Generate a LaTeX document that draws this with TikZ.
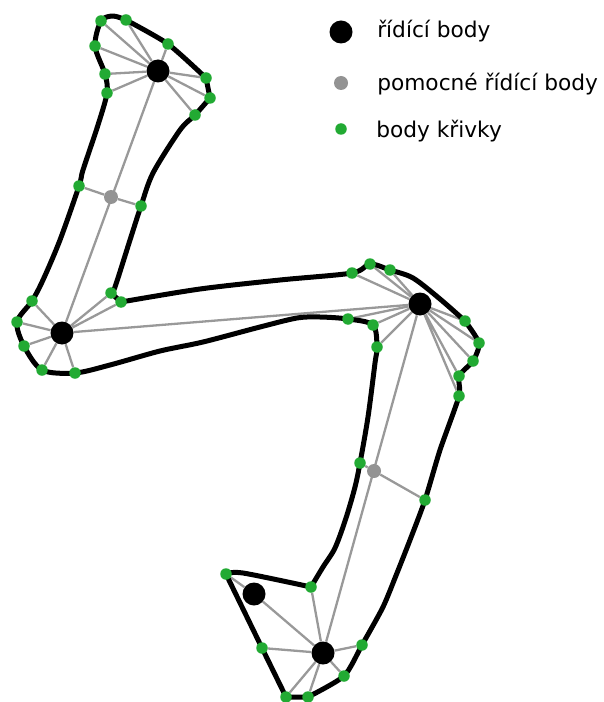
\documentclass[tikz,border=0pt]{standalone}
\usepackage{fontspec}
\setmainfont{DejaVu Sans}
\usetikzlibrary{backgrounds}
\tikzset{
  ctrl/.style={circle,fill=black,inner sep=0pt,minimum size=23\pxu},
  aux/.style={circle,fill=gray!85,inner sep=0pt,minimum size=14\pxu},
  crv/.style={circle,fill=ptgreen,inner sep=0pt,minimum size=11.5\pxu},
  spoke/.style={draw=spokegray,line width=2.3\pxu},
  curveline/.style={draw=black,line width=5\pxu,line cap=round,line join=round},
  leg/.style={anchor=base west,inner sep=0pt,text=black,font=\fontsize{21.7\pxu}{26\pxu}\selectfont},
}
\newdimen\pxu \pxu=0.75pt
\definecolor{ptgreen}{HTML}{22AA33}
\definecolor{spokegray}{HTML}{999999}
\begin{document}
\begin{tikzpicture}[x=0.75pt,y=-0.75pt]
\useasboundingbox (0,0) rectangle (603,702);
% control points
\node[ctrl] (c1) at (158,71) {};
\node[ctrl] (c2) at (62,333) {};
\node[ctrl] (c3) at (420,304) {};
\node[ctrl] (c4) at (323,653) {};
\node[ctrl] (c5) at (254,594) {};
% auxiliary points
\node[aux] (a1) at (111,197) {};
\node[aux] (a2) at (374,471) {};
% curve points
\foreach \n/\x/\y in {
 t1/101/21,t2/126/20,t3/168/44,t4/206/78,t5/210/98,t6/195/115,t7/141/206,t8/79/186,
 t9/107/93,t10/105/74,t11/95/46,
 l1/32/301,l2/17/322,l3/24/346,l4/42/370,l5/75/373,l6/111/293,l7/121/302,
 r1/352/273,r2/370/264,r3/390/270,r4/465/321,r5/479/343,r6/473/361,r7/459/376,r8/459/396,
 r9/348/319,r10/373/325,r11/377/347,r12/360/463,r13/425/500,
 b1/226/574,b2/311/587,b3/262/648,b4/362/645,b5/344/676,b6/308/697,b7/286/697}
 {\node[crv] (\n) at (\x,\y) {};}
% waypoints of the curve
\foreach \n/\x/\y in {
 w1/243/573,
 w2/323/567,w3/335/548,w4/346/518,w30/355/487,
 w5/368/417,w6/375/363,
 w7/320/317,w8/297/318,w9/260/327,w10/203/342,w11/160/351,w12/110/365,
 w13/43/280,w14/60/240,
 w15/83/170,w16/98/125,
 w17/113/16,
 w19/180/130,w20/153/173,
 w21/130/240,w22/115/287,
 w23/200/289,w24/280/280,
 w25/413/278,w26/440/299,
 w27/440/450,
 w28/410/540,w31/397/573,w29/383/607}
 {\coordinate (\n) at (\x,\y);}
\begin{scope}[on background layer]
 \path[spoke] (c1)--(t1) (c1)--(t2) (c1)--(t3) (c1)--(t4) (c1)--(t5) (c1)--(t6)
   (c1)--(t9) (c1)--(t10) (c1)--(t11) (c1)--(c2)
   (a1)--(t7) (a1)--(t8);
 \path[spoke] (c2)--(l1) (c2)--(l2) (c2)--(l3) (c2)--(l4) (c2)--(l5) (c2)--(l6) (c2)--(l7) (c2)--(c3);
 \path[spoke] (c3)--(r1) (c3)--(r2) (c3)--(r3) (c3)--(r4) (c3)--(r5) (c3)--(r6) (c3)--(r7) (c3)--(r8)
   (c3)--(r9) (c3)--(r10) (c3)--(r11) (c3)--(c4)
   (a2)--(r12) (a2)--(r13);
 \path[spoke] (c4)--(b2) (c4)--(b3) (c4)--(b4) (c4)--(b5) (c4)--(b6) (c4)--(b7) (c4)--(c5) (c5)--(b1);
 % the curve
 \path[curveline] plot[smooth,tension=0.5] coordinates {(b1.center) (w1) (b2.center)};
 \path[curveline] plot[smooth,tension=0.5] coordinates {(b2.center) (w2) (w3) (w4) (w30) (r12.center) (w5) (w6) (r11.center) (r10.center) (r9.center) (w7) (w8) (w9) (w10) (w11) (w12) (l5.center) (l4.center) (l3.center) (l2.center) (l1.center) (w13) (w14) (t8.center) (w15) (w16) (t9.center) (t10.center) (t11.center) (t1.center) (w17) (t2.center)};
 \path[curveline] plot[smooth,tension=0.4] coordinates {(t2.center) (t3.center) (t4.center)};
 \path[curveline] (t4.center) -- (t5.center);
 \path[curveline] plot[smooth,tension=0.5] coordinates {(t5.center) (t6.center) (w19) (w20) (t7.center) (w21) (w22) (l6.center)};
 \path[curveline] (l6.center) -- (l7.center);
 \path[curveline] plot[smooth,tension=0.5] coordinates {(l7.center) (w23) (w24) (r1.center) (r2.center) (r3.center) (w25) (w26) (r4.center)};
 \path[curveline] plot[smooth,tension=0.4] coordinates {(r4.center) (r5.center) (r6.center) (r7.center) (r8.center) (w27) (r13.center) (w28) (w31) (w29) (b4.center) (b5.center) (b6.center)};
 \path[curveline] (b6.center) -- (b7.center) -- (b3.center) -- (b1.center);
\end{scope}
% legend
\node[ctrl] (k1) at (341,32) {};
\node[aux] (k2) at (341,83) {};
\node[crv] (k3) at (341,129) {};
\node[leg] (n1) at (377,38) {řídící body};
\node[leg] (n2) at (377,91) {pomocné řídící body};
\node[leg] (n3) at (376,138) {body křivky};
\end{tikzpicture}
\end{document}
